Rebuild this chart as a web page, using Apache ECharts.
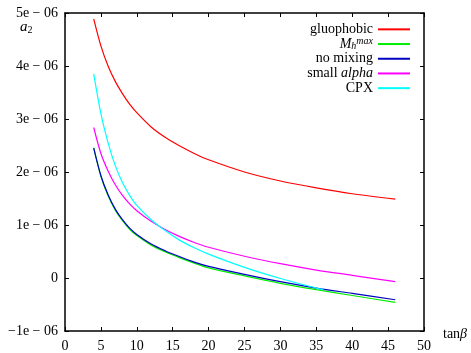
<!DOCTYPE html>
<html>
<head>
<meta charset="utf-8">
<script src="https://cdn.jsdelivr.net/npm/echarts@6/dist/echarts.min.js"></script>
<style>
  html, body { margin: 0; padding: 0; background: #fff; }
  #chart { width: 471px; height: 353px; }
</style>
</head>
<body>
<div id="chart"></div>
<script>
// tan(beta) sampling
const tanBeta = [4, 5, 6, 7, 8, 9, 10, 12, 14, 16, 18, 20, 25, 30, 35, 40, 46];
const tanBetaCpx = [4, 5, 6, 7, 8, 9, 10, 12, 14, 16, 18, 20, 25, 30, 35, 36];

// a2 values
const gluophobic = [4.89e-6, 4.38e-6, 4.00e-6, 3.71e-6, 3.48e-6, 3.28e-6, 3.12e-6, 2.85e-6, 2.65e-6, 2.49e-6, 2.35e-6, 2.23e-6, 2.00e-6, 1.83e-6, 1.70e-6, 1.59e-6, 1.49e-6];
const mhmax = [2.46e-6, 1.92e-6, 1.55e-6, 1.28e-6, 1.08e-6, 0.92e-6, 0.80e-6, 0.62e-6, 0.49e-6, 0.38e-6, 0.28e-6, 0.19e-6, 0.04e-6, -0.10e-6, -0.22e-6, -0.33e-6, -0.46e-6];
const noMixing = [2.45e-6, 1.93e-6, 1.57e-6, 1.30e-6, 1.10e-6, 0.94e-6, 0.82e-6, 0.64e-6, 0.51e-6, 0.40e-6, 0.30e-6, 0.22e-6, 0.07e-6, -0.07e-6, -0.19e-6, -0.29e-6, -0.41e-6];
const smallAlpha = [2.84e-6, 2.35e-6, 2.02e-6, 1.76e-6, 1.56e-6, 1.40e-6, 1.27e-6, 1.07e-6, 0.91e-6, 0.78e-6, 0.67e-6, 0.58e-6, 0.41e-6, 0.27e-6, 0.15e-6, 0.05e-6, -0.07e-6];
const cpx = [3.85e-6, 3.10e-6, 2.55e-6, 2.12e-6, 1.80e-6, 1.56e-6, 1.37e-6, 1.10e-6, 0.89e-6, 0.71e-6, 0.57e-6, 0.45e-6, 0.20e-6, -0.01e-6, -0.19e-6, -0.22e-6];

const yTickLabels = ['\u22121e \u2212 06', '0', '1e \u2212 06', '2e \u2212 06', '3e \u2212 06', '4e \u2212 06', '5e \u2212 06'];

const font = 'Liberation Serif';

const chart = echarts.init(document.getElementById('chart'));

const pairs = (xs, ys) => xs.map((x, i) => [x, ys[i]]);

const mkLine = (name, xs, ys, color) => ({
  name: name,
  type: 'line',
  data: pairs(xs, ys),
  smooth: 0.3,
  symbol: 'none',
  lineStyle: { color: color, width: 1.2 },
  itemStyle: { color: color },
});

const tickStyle = { inside: true, length: 4, lineStyle: { color: '#000', width: 1 } };
const lineStyleAxis = { show: true, onZero: false, lineStyle: { color: '#000', width: 1.5 } };

chart.setOption({
  animation: false,
  backgroundColor: '#fff',
  grid: { left: 65, right: 47, top: 13, bottom: 17 },
  xAxis: [
    {
      type: 'value',
      min: 0,
      max: 50,
      interval: 5,
      name: 'tan{b|\u03b2}',
      nameLocation: 'end',
      nameGap: 19,
      nameTextStyle: {
        fontFamily: font, fontSize: 14, color: '#000', padding: [6, 0, 0, 0],
        rich: { b: { fontFamily: font, fontSize: 14, fontStyle: 'italic', color: '#000' } },
      },
      axisLine: lineStyleAxis,
      axisTick: tickStyle,
      splitLine: { show: false },
      axisLabel: { fontFamily: font, fontSize: 14, color: '#000', margin: 8 },
    },
    {
      type: 'value',
      position: 'top',
      min: 0,
      max: 50,
      interval: 5,
      axisLine: lineStyleAxis,
      axisTick: tickStyle,
      splitLine: { show: false },
      axisLabel: { show: false },
    },
  ],
  yAxis: [
    {
      type: 'value',
      min: -1e-6,
      max: 5e-6,
      interval: 1e-6,
      axisLine: lineStyleAxis,
      axisTick: tickStyle,
      splitLine: { show: false },
      axisLabel: {
        fontFamily: font, fontSize: 14, color: '#000', margin: 7,
        formatter: (v) => yTickLabels[Math.round(v / 1e-6) + 1],
      },
    },
    {
      type: 'value',
      position: 'right',
      min: -1e-6,
      max: 5e-6,
      interval: 1e-6,
      axisLine: lineStyleAxis,
      axisTick: tickStyle,
      splitLine: { show: false },
      axisLabel: { show: false },
    },
  ],
  legend: {
    orient: 'vertical',
    right: 56,
    top: 17,
    align: 'right',
    itemWidth: 32,
    itemHeight: 2,
    itemGap: 0,
    icon: 'rect',
    textStyle: {
      fontFamily: font, fontSize: 14, color: '#000', lineHeight: 14.7,
      rich: {
        it: { fontFamily: font, fontSize: 14, fontStyle: 'italic', color: '#000', lineHeight: 14.7 },
        sub: { fontFamily: font, fontSize: 10, fontStyle: 'italic', color: '#000', verticalAlign: 'bottom', lineHeight: 14.7 },
        sup: { fontFamily: font, fontSize: 10, fontStyle: 'italic', color: '#000', verticalAlign: 'top', lineHeight: 14.7 },
      },
    },
    formatter: (name) => {
      if (name === 'M_h^max') return '{it|M}{sub|h}{sup|max}';
      if (name === 'small alpha') return 'small {it|alpha}';
      return name;
    },
    data: ['gluophobic', 'M_h^max', 'no mixing', 'small alpha', 'CPX'],
  },
  graphic: [
    {
      type: 'text',
      left: 20,
      top: 20,
      style: {
        text: '{a|a}{s|2}',
        rich: {
          a: { fontFamily: font, fontSize: 15, fontStyle: 'italic', fill: '#000' },
          s: { fontFamily: font, fontSize: 10, fill: '#000', verticalAlign: 'bottom', padding: [6, 0, 0, 0] },
        },
      },
    },
  ],
  series: [
    mkLine('gluophobic', tanBeta, gluophobic, '#ff0000'),
    mkLine('M_h^max', tanBeta, mhmax, '#00ee00'),
    mkLine('no mixing', tanBeta, noMixing, '#0000c0'),
    mkLine('small alpha', tanBeta, smallAlpha, '#ff00ff'),
    mkLine('CPX', tanBetaCpx, cpx, '#00ffff'),
  ],
});
</script>
</body>
</html>
